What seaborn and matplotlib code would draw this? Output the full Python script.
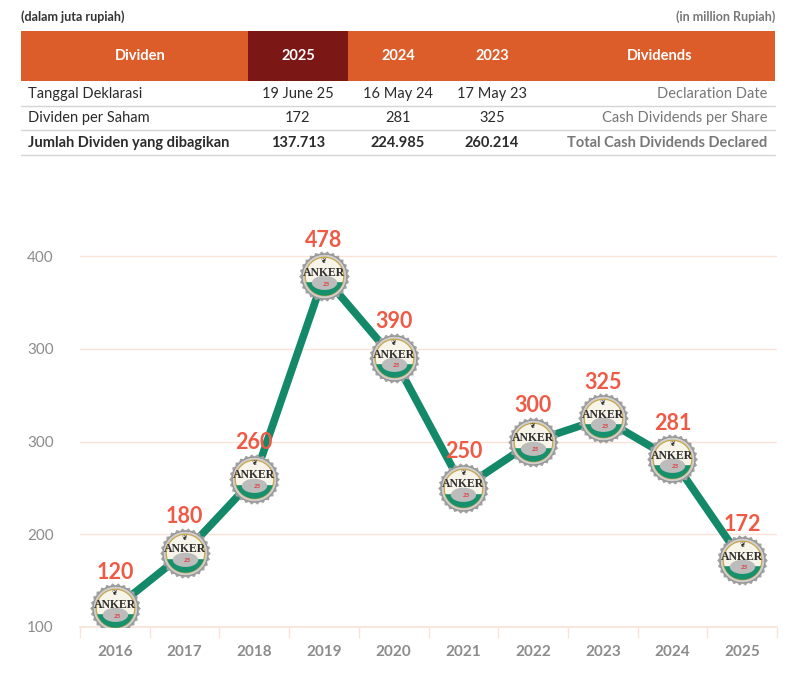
import numpy as np
import pandas as pd
import seaborn as sns
import matplotlib.pyplot as plt
from matplotlib.path import Path
from matplotlib.patches import Rectangle

# chart data
years = ['2016', '2017', '2018', '2019', '2020', '2021', '2022', '2023', '2024', '2025']
dividend = [120, 180, 260, 478, 390, 250, 300, 325, 281, 172]
ytick_pos = [100, 200, 300, 400, 500]
ytick_labels = ['100', '200', '300', '300', '400']  # as printed in the report

# table data
table_years = ['2025', '2024', '2023']
decl_dates = ['19 June 25', '16 May 24', '17 May 23']
per_share = ['172', '281', '325']
total_div = ['137.713', '224.985', '260.214']
row_id = ['Tanggal Deklarasi', 'Dividen per Saham', 'Jumlah Dividen yang dibagikan']
row_en = ['Declaration Date', 'Cash Dividends per Share', 'Total Cash Dividends Declared']

ORANGE = '#dc5c2a'
DARKRED = '#7b1715'
GREEN = '#13896a'
LABEL = '#ee5a45'
GREY = '#8c8c8c'
PINK = '#fbe3da'

sns.set_theme(style='white')
plt.rcParams['font.family'] = ['Lato', 'DejaVu Sans']

fig = plt.figure(figsize=(7.94, 6.75), dpi=100)

# ---- table on top, drawn in pixel coords
tb = fig.add_axes([0, 0, 1, 1])
tb.set_xlim(0, 794)
tb.set_ylim(675, 0)
tb.axis('off')

tb.text(21, 17, '(dalam juta rupiah)', fontsize=9, fontweight='bold', color='#333333', va='center')
tb.text(775, 17, '(in million Rupiah)', fontsize=9, fontweight='bold', color='#777777', va='center', ha='right')
tb.add_patch(Rectangle((21, 31), 754, 50, color=ORANGE, lw=0))
tb.add_patch(Rectangle((248, 31), 100, 50, color=DARKRED, lw=0))

col_x = [298, 398, 492]
tb.text(140, 56, 'Dividen', color='white', fontsize=10.5, fontweight='bold', ha='center', va='center')
tb.text(660, 56, 'Dividends', color='white', fontsize=10.5, fontweight='bold', ha='center', va='center')
for cx, yr in zip(col_x, table_years):
    tb.text(cx, 56, yr, color='white', fontsize=10.5, fontweight='bold', ha='center', va='center')

rows = [decl_dates, per_share, total_div]
row_y = [94, 118, 143]
for k, (ry, vals) in enumerate(zip(row_y, rows)):
    w = 'bold' if k == 2 else 'normal'
    tb.text(28, ry, row_id[k], fontsize=10.5, fontweight=w, color='#2b2b2b', va='center')
    tb.text(767, ry, row_en[k], fontsize=10.5, fontweight=w, color='#777777', va='center', ha='right')
    for cx, v in zip(col_x, vals):
        tb.text(cx, ry, v, fontsize=10.5, fontweight=w, color='#2b2b2b', va='center', ha='center')
    tb.plot([21, 775], [ry + 12, ry + 12], color='#d5d5d5', lw=1)

# ---- line chart
ax = fig.add_axes([80 / 794, 48 / 675, 697 / 794, 408 / 675])
df = pd.DataFrame({'pos': np.arange(len(years)), 'year': years, 'value': dividend})
sns.lineplot(data=df, x='pos', y='value', color=GREEN, linewidth=5.5, ax=ax, zorder=2)


def unit_path(verts):
    # lone moveto at radius 1 keeps every cap layer in the same scale
    verts = np.vstack([[1, 0], verts, verts[:1]])
    codes = [Path.MOVETO, Path.MOVETO] + [Path.LINETO] * (len(verts) - 3) + [Path.CLOSEPOLY]
    return Path(verts, codes)


n = 26
a = np.linspace(0, 2 * np.pi, 2 * n, endpoint=False)
r = np.where(np.arange(2 * n) % 2 == 0, 1.0, 0.91)
gear = unit_path(np.column_stack([r * np.cos(a), r * np.sin(a)]))
t = np.linspace(0, 2 * np.pi, 80, endpoint=False)
ring = unit_path(np.column_stack([0.88 * np.cos(t), 0.88 * np.sin(t)]))
inner = unit_path(np.column_stack([0.76 * np.cos(t), 0.76 * np.sin(t)]))
t2 = np.linspace(np.pi + 0.3, 2 * np.pi - 0.3, 40)
green_seg = unit_path(np.column_stack([0.76 * np.cos(t2), 0.76 * np.sin(t2)]))
blob = unit_path(np.column_stack([0.5 * np.cos(t), -0.25 + 0.28 * np.sin(t)]))

S = 1330
ax.scatter(df['pos'], df['value'], s=S, marker=gear, color='#a2a2a2', linewidths=0, zorder=3)
ax.scatter(df['pos'], df['value'], s=S, marker=ring, color='#cfcfcf', edgecolors='#8f8f8f', linewidths=0.6, zorder=4)
ax.scatter(df['pos'], df['value'], s=S, marker=inner, color='#f7f4ea', edgecolors='#c9a64a', linewidths=0.9, zorder=5)
ax.scatter(df['pos'], df['value'], s=S, marker=green_seg, color='#17906d', linewidths=0, zorder=6)
ax.scatter(df['pos'], df['value'], s=S, marker=blob, color='#bcbcbc', linewidths=0, zorder=7)

for p, v in zip(df['pos'], df['value']):
    ax.annotate('ANKER', (p, v), xytext=(0, 2.5), textcoords='offset points', ha='center', va='center',
                fontsize=8.5, fontweight='bold', family='Liberation Serif', color='#2e2e2e', zorder=8)
    ax.annotate('25', (p, v), xytext=(2, -5.5), textcoords='offset points', ha='center', va='center',
                fontsize=4.5, fontweight='bold', fontstyle='italic', color='#e03a3a', zorder=8)
    ax.annotate('\u2766', (p, v), xytext=(0, 11), textcoords='offset points', ha='center', va='center',
                fontsize=5, color='#333333', family='DejaVu Sans', zorder=8)
    ax.annotate(str(v), (p, v), xytext=(0, 26), textcoords='offset points', ha='center', va='center',
                fontsize=15.5, fontweight='bold', color=LABEL, zorder=9)

ax.set_xlim(-0.5, len(years) - 0.5)
ax.set_ylim(100, 540)
ax.set_yticks(ytick_pos, ytick_labels)
ax.set_xticks(df['pos'], years)
ax.set_xticks(np.arange(-0.5, len(years)), minor=True)
ax.yaxis.grid(True, color=PINK, linewidth=1)
ax.set_axisbelow(True)
ax.set_xlabel('')
ax.set_ylabel('')
for s in ['top', 'right', 'left']:
    ax.spines[s].set_visible(False)
ax.spines['bottom'].set_color(PINK)
ax.tick_params(axis='y', length=0, pad=19, labelsize=11, labelcolor=GREY)
ax.tick_params(axis='x', which='major', length=0, pad=13, labelsize=11, labelcolor=GREY)
ax.tick_params(axis='x', which='minor', bottom=True, length=8, width=1, color=PINK, direction='out')
for lab in ax.get_xticklabels():
    lab.set_fontweight('bold')

fig.savefig('out.png', dpi=100)
